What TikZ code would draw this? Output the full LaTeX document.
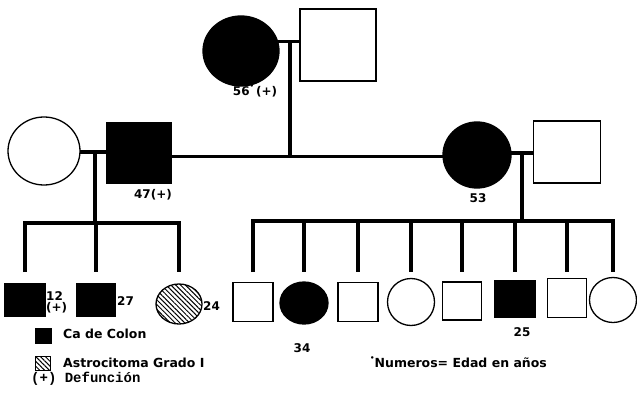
\documentclass[tikz,border=0pt]{standalone}
\usepackage{fontspec}
\setmainfont{DejaVu Sans}
\newfontfamily\monofnt{Liberation Mono}
\usetikzlibrary{shapes.geometric,patterns.meta,backgrounds}
\begin{document}
\begin{tikzpicture}[x=1pt,y=-1pt,
  conn/.style={line width=3.4pt},
  mline/.style={line width=3pt},
  person/.style={draw, line width=1.3pt, inner sep=0pt, fill=white},
  male/.style={person, rectangle},
  female/.style={person, ellipse},
  aff/.style={fill=black},
  hatch/.style={pattern={Lines[angle=-45,distance=3.4pt,line width=1pt]}},
  num/.style={font=\fontsize{12}{12}\bfseries\selectfont, inner sep=0pt},
  leg/.style={font=\fontsize{12.5}{14}\bfseries\selectfont, inner sep=0pt},
]
\useasboundingbox (0,0) rectangle (637,393);

% generation I
\node[female, aff, minimum width=76pt, minimum height=70pt] (gm) at (241,51) {};
\node[male, minimum width=76pt, minimum height=72pt] (gf) at (338,45) {};

% generation II
\node[female, minimum width=72pt, minimum height=68pt] (wife) at (44,151) {};
\node[male, aff, minimum width=64pt, minimum height=60pt] (p47) at (139,153) {};
\node[female, aff, minimum width=68pt, minimum height=66pt] (p53) at (477,155) {};
\node[male, minimum width=67pt, minimum height=62pt] (hus) at (567,152) {};

% generation III, left
\node[male, aff, minimum width=40pt, minimum height=33pt] (c1) at (25,300) {};
\node[male, aff, minimum width=38pt, minimum height=33pt] (c2) at (96,300) {};
\node[female, hatch, minimum width=46pt, minimum height=40pt] (c3) at (179,304) {};

% generation III, right
\node[male, minimum width=40pt, minimum height=39pt] (r1) at (253,302) {};
\node[female, aff, minimum width=48pt, minimum height=42pt] (r2) at (304,303) {};
\node[male, minimum width=40pt, minimum height=39pt] (r3) at (358,302) {};
\node[female, minimum width=47pt, minimum height=47pt] (r4) at (411,302) {};
\node[male, minimum width=39pt, minimum height=38pt] (r5) at (462,301) {};
\node[male, aff, minimum width=40pt, minimum height=36pt] (r6) at (515,299) {};
\node[male, minimum width=39pt, minimum height=39pt] (r7) at (567,298) {};
\node[female, minimum width=47pt, minimum height=45pt] (r8) at (613,300) {};

% junction coordinates
\coordinate (m1) at (290,42);
\coordinate (g2line) at (0,156);
\coordinate (m2) at (95,152);
\coordinate (sibL) at (0,223);
\coordinate (m3) at (522,153);
\coordinate (sibR) at (0,221);
\coordinate (dropend) at (0,272);

\begin{scope}[on background layer]
  \draw[mline] (m1 -| gm) -- (m1 -| gf);
  \draw[conn] (m1) -- (m1 |- g2line);
  \draw[mline] (p47 |- g2line) -- (p53 |- g2line);
  \draw[mline] (m2 -| wife) -- (m2 -| p47);
  \draw[conn] (m2) -- (m2 |- sibL);
  \draw[mline] (m3 -| p53) -- (m3 -| hus);
  \draw[conn] (m3) -- (m3 |- sibR);
\end{scope}

\draw[conn, line join=miter] (c1 |- dropend) -- (c1 |- sibL) -- (c3 |- sibL) -- (c3 |- dropend);
\draw[conn] (c2 |- sibL) -- (c2 |- dropend);
\draw[conn, line join=miter] (r1 |- dropend) -- (r1 |- sibR) -- (r8 |- sibR) -- (r8 |- dropend);
\foreach \c in {r2,r3,r4,r5,r6,r7}
  \draw[conn] (\c |- sibR) -- (\c |- dropend);

% labels
\node[num] (l56) at (255,91) {56\raisebox{1ex}{\fontsize{7}{7}\selectfont •}\,(+)};
\node[num] (l47) at (153,195) {47(+)};
\node[num] (l53) at (478,198) {53};
\node[num, anchor=west, align=left] (l12) at (46,302) {12\\[-1pt](+)};
\node[num, anchor=west] (l27) at (117,301) {27};
\node[num, anchor=west] (l24) at (203,306) {24};
\node[num] (l34) at (302,348) {34};
\node[num] (l25) at (522,332) {25};

% legend
\node[draw, fill=black, inner sep=0pt, minimum width=16pt, minimum height=15pt] (leg1) at (43,335.5) {};
\node[leg, anchor=west] (legt1) at (63,334) {Ca de Colon};
\node[draw, hatch, line width=0.8pt, inner sep=0pt, minimum width=15pt, minimum height=14pt] (leg2) at (42.5,363) {};
\node[leg, anchor=west] (legt2) at (63,363) {Astrocitoma Grado I};
\node[anchor=west, inner sep=0pt, font=\monofnt\bfseries\fontsize{14}{16}\selectfont] (legt3) at (31,379) {(+) Defunción};
\node[leg, anchor=west] (note) at (370,362) {\raisebox{1ex}{\fontsize{7}{7}\selectfont •}Numeros= Edad en años};
\end{tikzpicture}
\end{document}
